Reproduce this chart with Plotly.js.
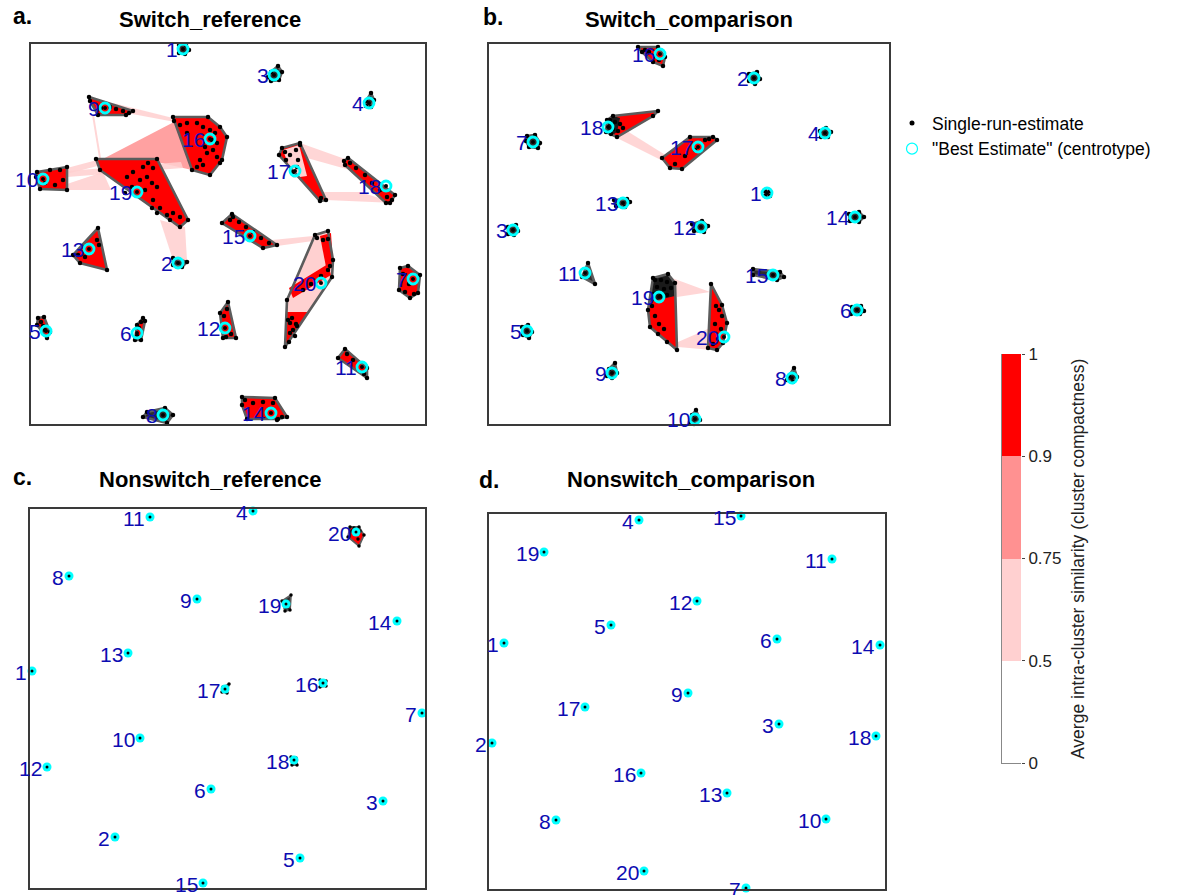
<!DOCTYPE html>
<html><head><meta charset="utf-8">
<script src="https://cdn.plot.ly/plotly-3.0.1.min.js"></script>
<style>html,body{margin:0;padding:0;background:#fff}#chart{width:1183px;height:895px}</style>
</head><body><div id="chart"></div>
<script>
// ---------- compactness classes (colour bar) ----------
const classEdges  = [0, 0.5, 0.75, 0.9, 1];
const classColors = ['#FFFFFF', '#FFD0D0', '#FF9191', '#FF0000'];
const classLabels = ['0', '0.5', '0.75', '0.9', '1'];
const classIndex  = [0, 1, 2, 3];

// ---------- cluster ids ----------
const clusterIds = [1,2,3,4,5,6,7,8,9,10,11,12,13,14,15,16,17,18,19,20];

// ---------- a. Switch_reference : centrotypes ----------
const aX = [152,147,243,338,15,106,382,132,74,12,331,194,58,240,219,179,264,355,106,290];
const aY = [5,219,31,59,287,289,235,371,64,135,323,284,205,369,192,95,127,142,148,239];
// convex hulls: id, compactness, dense (fully covered by estimates), vertices
const aHulls = [
 {id:1, c:0.95, dense:true,  x:[148,155,158,154,148], y:[1,1,6,10,9]},
 {id:2, c:0.95, dense:true,  x:[142,156,151,142], y:[214,218,223,221]},
 {id:3, c:0.95, dense:true,  x:[240,247,251,248,240,237], y:[28,22,28,36,37,33]},
 {id:4, c:0.95, dense:true,  x:[340,343,340,335,335], y:[49,56,63,62,57]},
 {id:5, c:0.95, dense:false, x:[7,13,19,16,6], y:[274,273,288,294,281]},
 {id:6, c:0.95, dense:false, x:[112,114,110,104,106], y:[274,277,296,296,281]},
 {id:7, c:0.95, dense:false, x:[369,377,389,387,379,368], y:[224,222,231,249,254,246]},
 {id:8, c:0.95, dense:true,  x:[116,134,142,136,112], y:[368,364,371,379,373]},
 {id:9, c:0.95, dense:false, x:[58,102,95,67,59], y:[53,67,71,71,57]},
 {id:10,c:0.95, dense:false, x:[6,36,36,9,5], y:[128,123,146,145,133]},
 {id:11,c:0.95, dense:false, x:[314,336,336,307], y:[305,324,334,314]},
 {id:12,c:0.95, dense:false, x:[197,205,192,189], y:[258,294,294,269]},
 {id:13,c:0.95, dense:false, x:[67,76,49,42], y:[184,226,219,211]},
 {id:14,c:0.95, dense:false, x:[211,244,256,247,216,211], y:[353,354,373,375,375,361]},
 {id:15,c:0.95, dense:false, x:[201,246,232,191], y:[170,201,204,179]},
 {id:16,c:0.95, dense:false, x:[142,177,189,196,191,179,161,143], y:[73,73,83,93,116,131,126,77]},
 {id:17,c:0.95, dense:false, x:[251,269,295,289,248], y:[104,99,156,157,111]},
 {id:18,c:0.95, dense:false, x:[313,317,364,359,355,314], y:[117,114,151,159,159,121]},
 {id:19,c:0.95, dense:false, x:[65,126,157,149,69], y:[115,115,176,183,126]},
 {id:20,c:0.7,  dense:false, x:[284,297,302,301,254,256], y:[191,187,216,233,303,256]}
];
// strongly similar sub-groups inside a cluster (drawn over the hull)
const aIntra = [
 {id:20, s:0.95, x:[289,300,302,296], y:[192,189,222,228]},
 {id:20, s:0.95, x:[258,297,300,262], y:[244,220,231,254]},
 {id:20, s:0.95, x:[256,277,254], y:[268,268,303]},
 {id:17, s:0.7,  x:[252,268,276,262], y:[106,101,132,134]}
];
const aDotsX = [96,102,112,117,122,109,116,121,126,114,101,94,122,129,136,142,149,139,126,121,
 149,156,166,172,179,184,186,182,176,169,166,172,156,186,189,181,174,
 254,259,265,267,266,262,269,290,255, 319,325,334,341,349,356,361,
 286,292,297,272,280,290,297,299,259,262,264,258,266,257,261,265,259, 202,208,215,222,230,238,199,
 79,85,92,98,70, 19,29,32,24,14, 66,68,54,47, 214,222,232,242,251,246,
 372,378,383,374, 196,200,195,193, 316,322,333, 10,12,14, 110,108,106];
const aDotsY = [133,128,123,119,124,136,133,139,143,146,143,149,156,164,171,169,173,176,169,164,
 81,79,79,83,86,89,99,106,109,116,123,121,89,113,119,96,103,
 108,111,106,116,123,128,101,154,116, 119,124,131,139,146,153,156,
 194,196,195,246,240,232,226,222,279,286,292,298,282,276,274,280,289, 173,178,183,188,194,199,176,
 63,65,67,69,64, 126,126,136,141,139, 196,201,213,211, 356,359,358,359,373,376,
 230,240,250,248, 265,290,293,272, 310,316,330, 278,282,286, 278,284,292];
// inter-cluster similarity bands: from, to, similarity, band outline
const aLinks = [
 {from:9,  to:16, s:0.6, x:[82,142,144,96], y:[59,74,78,69]},
 {from:9,  to:19, s:0.6, x:[61,63,70,68], y:[71,71,114,114]},
 {from:19, to:16, s:0.8, x:[68,143,161,126,72], y:[117,78,126,118,124]},
 {from:10, to:19, s:0.6, x:[36,66,70,36], y:[124,116,121,130]},
 {from:10, to:19, s:0.6, x:[36,72,80,36], y:[140,128,146,146]},
 {from:10, to:16, s:0.6, x:[36,150,152,36], y:[127,118,124,133]},
 {from:19, to:2,  s:0.6, x:[129,154,156,142], y:[176,183,216,216]},
 {from:17, to:18, s:0.6, x:[269,314,319,276], y:[99,115,126,114]},
 {from:17, to:18, s:0.6, x:[291,329,364,295], y:[148,148,159,156]},
 {from:15, to:20, s:0.6, x:[241,282,282,246], y:[196,192,197,202]}
];

// ---------- b. Switch_comparison ----------
const bX = [278,265,24,336,38,368,44,303,123,206,96,212,134,366,284,171,209,119,170,235];
const bY = [149,34,186,89,287,266,98,334,329,375,229,183,159,173,231,10,103,83,253,293];
const bHulls = [
 {id:1, c:0.95, dense:true, x:[276,281,281,276], y:[147,147,152,152]},
 {id:2, c:0.95, dense:true, x:[260,268,271,266,260], y:[30,28,35,40,37]},
 {id:3, c:0.95, dense:true, x:[19,27,29,25,19], y:[183,181,187,191,190]},
 {id:4, c:0.95, dense:true, x:[331,337,342,339,332], y:[87,84,88,93,93]},
 {id:5, c:0.95, dense:true, x:[33,39,43,40,34], y:[283,281,288,294,291]},
 {id:6, c:0.95, dense:true, x:[363,372,375,371,362], y:[263,262,267,270,270]},
 {id:7, c:0.95, dense:true, x:[38,46,51,49,40,37], y:[92,91,99,104,103,97]},
 {id:8, c:0.95, dense:true, x:[300,305,308,304,298], y:[332,324,333,338,336]},
 {id:9, c:0.95, dense:true, x:[120,126,128,123,118], y:[325,319,329,334,332]},
 {id:10,c:0.95, dense:true, x:[203,207,211,205,201], y:[371,366,376,380,378]},
 {id:11,c:0.95, dense:true, x:[99,106,93], y:[219,240,233]},
 {id:12,c:0.95, dense:true, x:[203,213,219,215,205], y:[180,177,182,188,187]},
 {id:13,c:0.95, dense:true, x:[125,138,141,136,127], y:[156,155,158,163,162]},
 {id:14,c:0.95, dense:true, x:[360,370,375,370,361], y:[170,168,173,178,177]},
 {id:15,c:0.95, dense:true, x:[264,291,295,288,264], y:[225,228,233,236,231]},
 {id:16,c:0.95, dense:false, x:[149,169,176,174,164,153], y:[3,3,13,22,18,8]},
 {id:17,c:0.95, dense:false, x:[201,224,228,193,181,173], y:[93,93,96,125,124,114]},
 {id:18,c:0.95, dense:false, x:[118,124,169,164,128,117], y:[76,72,67,72,93,88]},
 {id:19,c:0.95, dense:false, x:[164,179,186,188,161,159], y:[234,230,239,306,283,266]},
 {id:20,c:0.95, dense:false, x:[222,233,238,234,228,219], y:[240,261,279,299,306,304]}
];
const bIntra = [
 {id:19, s:0, x:[164,179,186,186,160], y:[234,230,239,252,258]},
 {id:18, s:0, x:[118,124,131,128,122,117], y:[76,72,74,88,92,88]}
];
const bDotsX = [160,166,170,156, 216,206,196,186,220, 121,126,131,124,129,134,122,
 166,172,178,168,175,182,165,172,178,163,166,170,175,169,178, 227,230,233,226,232,229,224];
const bDotsY = [8,12,16,6, 96,106,112,120,95, 76,78,80,85,87,84,90,
 236,236,238,243,245,244,250,252,251,262,272,280,285,290,298, 262,266,272,280,285,295,300];
const bLinks = [
 {from:18, to:17, s:0.6, x:[130,178,186,124], y:[82,112,123,92]},
 {from:19, to:20, s:0.6, x:[183,221,188], y:[234,248,253]},
 {from:19, to:20, s:0.6, x:[189,221,223,189], y:[298,284,306,303]}
];

// ---------- c. Nonswitch_reference ----------
const cX = [2,85,353,223,270,181,392,39,167,110,120,17,98,367,173,293,195,264,256,326];
const cY = [162,328,292,2,349,280,204,67,90,229,8,258,144,112,374,174,180,251,95,23];
const cHulls = [
 {id:20,c:0.95, dense:false, x:[320,329,334,329,318], y:[18,18,26,37,28]},
 {id:19,c:0.95, dense:true,  x:[252,261,260,255], y:[92,86,101,102]},
 {id:17,c:0.95, dense:true,  x:[193,199,197,192], y:[178,175,184,183]},
 {id:16,c:0.95, dense:true,  x:[290,296,296,290], y:[171,172,177,178]},
 {id:18,c:0.95, dense:true,  x:[261,266,267,262], y:[248,249,256,256]}
];
const cDotsX = [322,330,328,324];
const cDotsY = [22,22,30,19];

// ---------- d. Nonswitch_comparison ----------
const dX = [15,3,290,150,122,288,257,67,199,337,343,208,238,391,252,152,96,387,55,155];
const dY = [129,229,210,6,111,125,374,306,179,305,45,87,279,131,2,259,193,222,38,357];

// ---------- build ----------
function classColor(v){
  for (let i = 0; i < classColors.length; i++) if (v <= classEdges[i+1]) return classColors[i];
  return classColors[classColors.length-1];
}
const FONT = 'Liberation Sans, Arial, Helvetica, sans-serif';
const LABEL_COLOR = 'rgb(12,12,178)';
const traces = [];
const annotations = [];

const panels = [
  {xa:'x',  ya:'y',  cx:aX, cy:aY, hulls:aHulls, intra:aIntra, dx:aDotsX, dy:aDotsY, links:aLinks, big:true},
  {xa:'x2', ya:'y2', cx:bX, cy:bY, hulls:bHulls, intra:bIntra, dx:bDotsX, dy:bDotsY, links:bLinks, big:true},
  {xa:'x3', ya:'y3', cx:cX, cy:cY, hulls:cHulls, intra:[], dx:cDotsX, dy:cDotsY, links:[], big:false},
  {xa:'x4', ya:'y4', cx:dX, cy:dY, hulls:[], intra:[], dx:[], dy:[], links:[], big:false}
];

function poly(p, xs, ys, fill, lw, lc, op){
  traces.push({type:'scatter', mode:'lines', x:[...xs, xs[0]], y:[...ys, ys[0]],
    xaxis:p.xa, yaxis:p.ya, fill:'toself', fillcolor:fill, opacity:op,
    line:{width:lw, color:lc}, hoverinfo:'skip', showlegend:false});
}

panels.forEach(p => {
  p.links.forEach(l => poly(p, l.x, l.y, classColor(l.s), 0, classColor(l.s), 0.85));
  p.hulls.forEach(h => poly(p, h.x, h.y, h.dense ? '#2e2e2e' : classColor(h.c), 0, '#5c5c5c', 1));
  p.intra.forEach(g => poly(p, g.x, g.y, g.s === 0 ? '#1a1a1a' : classColor(g.s), 0, '#000', 1));
  p.hulls.forEach(h => {
    traces.push({type:'scatter', mode:'lines', x:[...h.x, h.x[0]], y:[...h.y, h.y[0]],
      xaxis:p.xa, yaxis:p.ya, line:{width: p.big ? 2.6 : 1.8, color:'#5c5c5c'},
      hoverinfo:'skip', showlegend:false});
  });
  const ex = [...p.dx], ey = [...p.dy];
  p.hulls.forEach(h => { ex.push(...h.x); ey.push(...h.y); });
  if (ex.length) traces.push({type:'scatter', mode:'markers', x:ex, y:ey, xaxis:p.xa, yaxis:p.ya,
      marker:{color:'#000', size: p.big ? 4.5 : 3.5}, hoverinfo:'skip', showlegend:false, cliponaxis:false});
  if (p.big) {
    traces.push({type:'scatter', mode:'markers', x:p.cx, y:p.cy, xaxis:p.xa, yaxis:p.ya,
      marker:{color:'#000', size:4}, hoverinfo:'skip', showlegend:false, cliponaxis:false});
    traces.push({type:'scatter', mode:'markers', x:p.cx, y:p.cy, xaxis:p.xa, yaxis:p.ya,
      marker:{symbol:'circle-open', color:'#00FFFF', size:10, line:{width:2.8}},
      hoverinfo:'skip', showlegend:false, cliponaxis:false});
  } else {
    traces.push({type:'scatter', mode:'markers', x:p.cx, y:p.cy, xaxis:p.xa, yaxis:p.ya,
      marker:{color:'#00FFFF', size:9}, hoverinfo:'skip', showlegend:false, cliponaxis:false});
    traces.push({type:'scatter', mode:'markers', x:p.cx, y:p.cy, xaxis:p.xa, yaxis:p.ya,
      marker:{color:'#000', size:3}, hoverinfo:'skip', showlegend:false, cliponaxis:false});
  }
  clusterIds.forEach((id, i) => {
    annotations.push({xref:p.xa, yref:p.ya, x:p.cx[i], y:p.cy[i], text:String(id),
      showarrow:false, xanchor:'right', yanchor:'middle', xshift:-3, yshift:-1,
      font:{family:FONT, size:21, color:LABEL_COLOR}});
  });
});

// legend entries
traces.push({type:'scatter', mode:'markers', x:[null], y:[null], name:'Single-run-estimate',
  marker:{color:'#000', size:5}, showlegend:true});
traces.push({type:'scatter', mode:'markers', x:[null], y:[null], name:'"Best Estimate" (centrotype)',
  marker:{symbol:'circle-open', color:'#00FFFF', size:11, line:{width:1.2}}, showlegend:true});

// colour bar (heatmap of the compactness classes)
traces.push({type:'heatmap', x:[0], y:[0.5,1.5,2.5,3.5], z:classIndex.map(v => [v]),
  xaxis:'x5', yaxis:'y5', zmin:0, zmax:3, showscale:false, hoverinfo:'skip',
  colorscale:[[0,classColors[0]],[1/6,classColors[0]],[1/6,classColors[1]],[0.5,classColors[1]],
              [0.5,classColors[2]],[5/6,classColors[2]],[5/6,classColors[3]],[1,classColors[3]]]});
traces.push({type:'scatter', mode:'markers', x:[0], y:[null], xaxis:'x5', yaxis:'y6',
  showlegend:false, hoverinfo:'skip'});

// titles
const titleFont = {family:FONT, size:22, color:'#000'};
const letterFont = {family:FONT, size:23, color:'#000'};
[
  {x:22/1183, y:1-16/895, t:'<b>a.</b>', f:letterFont},
  {x:210/1183, y:1-19/895, t:'<b>Switch_reference</b>', f:titleFont},
  {x:493/1183, y:1-17/895, t:'<b>b.</b>', f:letterFont},
  {x:689/1183, y:1-19/895, t:'<b>Switch_comparison</b>', f:titleFont},
  {x:22/1183, y:1-477/895, t:'<b>c.</b>', f:letterFont},
  {x:210/1183, y:1-479/895, t:'<b>Nonswitch_reference</b>', f:titleFont},
  {x:489/1183, y:1-480/895, t:'<b>d.</b>', f:letterFont},
  {x:691/1183, y:1-479/895, t:'<b>Nonswitch_comparison</b>', f:titleFont}
].forEach(a => annotations.push({xref:'paper', yref:'paper', x:a.x, y:a.y, text:a.t,
  showarrow:false, xanchor:'center', yanchor:'middle', font:a.f}));
annotations.push({xref:'paper', yref:'paper', x:1078/1183, y:1-559/895,
  text:'Averge intra-cluster similarity (cluster compactness)', textangle:-90,
  showarrow:false, xanchor:'center', yanchor:'middle', font:{family:FONT, size:17.5, color:'#222'}});

function panelAxis(domain, range, anchor){
  return {domain:domain, range:range, anchor:anchor, showline:true, mirror:true, linewidth:2,
    linecolor:'#3a3a3a', showgrid:false, zeroline:false, showticklabels:false, ticks:'', fixedrange:true};
}
const layout = {
  width:1183, height:895, margin:{l:0, r:0, t:0, b:0}, paper_bgcolor:'#fff', plot_bgcolor:'#fff',
  font:{family:FONT},
  xaxis:  panelAxis([31/1183, 425/1183], [0,394], 'y'),
  yaxis:  panelAxis([1-424/895, 1-44/895], [380,0], 'x'),
  xaxis2: panelAxis([489/1183, 889/1183], [0,400], 'y2'),
  yaxis2: panelAxis([1-424/895, 1-44/895], [380,0], 'x2'),
  xaxis3: panelAxis([30/1183, 425/1183], [0,395], 'y3'),
  yaxis3: panelAxis([1-888/895, 1-509/895], [379,0], 'x3'),
  xaxis4: panelAxis([489/1183, 885/1183], [0,396], 'y4'),
  yaxis4: panelAxis([1-889/895, 1-514/895], [375,0], 'x4'),
  xaxis5: {domain:[1002/1183, 1021/1183], range:[-0.5,0.5], anchor:'y5', showline:true, linecolor:'#888',
           linewidth:1, showgrid:false, zeroline:false, showticklabels:false, ticks:'', fixedrange:true},
  yaxis5: {domain:[1-763/895, 1-354/895], range:[0,4], anchor:'x5', side:'left', showline:true,
           linecolor:'#888', linewidth:1, showgrid:false, zeroline:false, showticklabels:false, ticks:'', fixedrange:true},
  yaxis6: {range:[0,4], overlaying:'y5', anchor:'x5', side:'right', showline:false, showgrid:false,
           zeroline:false, tickvals:[0,1,2,3,4], ticktext:classLabels, ticks:'outside', ticklen:3,
           tickcolor:'#444', tickfont:{family:FONT, size:17, color:'#222'}, fixedrange:true},
  legend:{x:892/1183, y:1-105/895, xanchor:'left', yanchor:'top', bgcolor:'rgba(0,0,0,0)',
          font:{family:FONT, size:17.5, color:'#000'}, itemwidth:30, tracegroupgap:0},
  showlegend:true,
  annotations:annotations
};
Plotly.newPlot('chart', traces, layout, {displayModeBar:false, staticPlot:true});
</script>
</body></html>
